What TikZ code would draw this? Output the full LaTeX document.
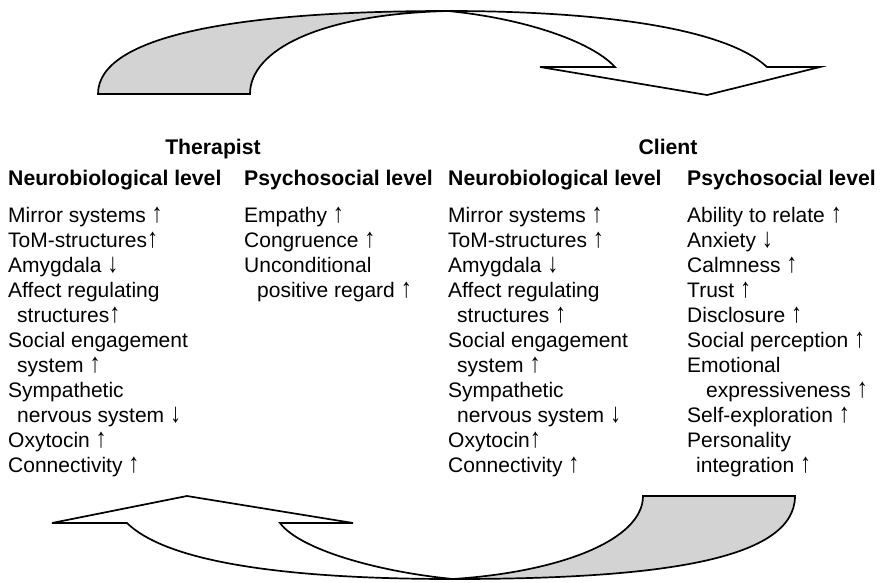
\documentclass[tikz,border=0pt]{standalone}
\usepackage{fontspec}
\setmainfont{Liberation Sans}
\definecolor{backgrey}{RGB}{211,211,211}
% tall, thin change arrows, boxed to the cap height of the text
\newcommand\upar{\raisebox{0pt}[0.74em][0.02em]{\scalebox{1.05}[1.3]{↑}}}
\newcommand\dnar{\raisebox{0pt}[0.74em][0.02em]{\scalebox{1.05}[1.3]{↓}}}
\begin{document}
\begin{tikzpicture}[x=1pt,y=-1pt,
  txt/.style={anchor=base west, inner sep=0pt, font=\fontsize{21}{25}\selectfont},
  headtxt/.style={txt, font=\fontsize{21.2}{25}\selectfont\bfseries},
  titletxt/.style={anchor=base, inner sep=0pt, font=\fontsize{21.2}{25}\selectfont\bfseries},
  ribbon/.style={draw=black, line width=1.7pt, line join=miter},
  backside/.style={ribbon, fill=backgrey},
  frontside/.style={ribbon, fill=white}]
\useasboundingbox (0,0) rectangle (880,582);

% upper ribbon arrow: therapist -> client
\coordinate (ta) at (448,11);
\draw[backside] (98,94) .. controls (98,35) and (240,11) .. (ta)
  .. controls (320,14) and (250,50) .. (250,94) -- cycle;
\draw[frontside] (ta) .. controls (600,11) and (725,28) .. (767,67)
  -- (820,67) -- (707,95) -- (540,67) -- (615,67)
  .. controls (590,40) and (520,18) .. (ta) -- cycle;

% lower ribbon arrow: client -> therapist
\coordinate (ba) at (453,579);
\draw[backside] (643,496) -- (795,496) .. controls (795,560) and (660,579) .. (ba)
  .. controls (560,572) and (643,540) .. (643,496) -- cycle;
\draw[frontside] (ba) .. controls (300,579) and (170,565) .. (127,523)
  -- (52,523) -- (187,496) -- (353,523) -- (280,523)
  .. controls (300,550) and (380,572) .. (ba) -- cycle;

% titles
\node[titletxt] (therapist) at (213,154) {Therapist};
\node[titletxt] (client) at (668,154) {Client};

% column heads
\node[headtxt] (thn) at (8,185.5) {Neurobiological level};
\node[headtxt] (thp) at (244,185.5) {Psychosocial level};
\node[headtxt] (chn) at (448,185.5) {Neurobiological level};
\node[headtxt] (chp) at (687,185.5) {Psychosocial level};

% therapist, neurobiological level
\foreach \d/\t [count=\i] in {0/Mirror systems \upar, 0/ToM-structures\upar, 0/Amygdala \dnar,
  0/Affect regulating, 9/structures\upar, 0/Social engagement, 9/system \upar,
  0/Sympathetic, 9/nervous system \dnar, 0/Oxytocin \upar, 0/Connectivity \upar}
  \node[txt] (tn\i) at (8+\d, 197+25*\i) {\t};

% therapist, psychosocial level
\foreach \d/\t [count=\i] in {0/Empathy \upar, 0/Congruence \upar, 0/Unconditional,
  13/positive regard \upar}
  \node[txt] (tp\i) at (244+\d, 197+25*\i) {\t};

% client, neurobiological level
\foreach \d/\t [count=\i] in {0/Mirror systems \upar, 0/ToM-structures \upar, 0/Amygdala \dnar,
  0/Affect regulating, 9/structures \upar, 0/Social engagement, 9/system \upar,
  0/Sympathetic, 9/nervous system \dnar, 0/Oxytocin\upar, 0/Connectivity \upar}
  \node[txt] (cn\i) at (448+\d, 197+25*\i) {\t};

% client, psychosocial level
\foreach \d/\t [count=\i] in {0/Ability to relate \upar, 0/Anxiety \dnar, 0/Calmness \upar,
  0/Trust \upar, 0/Disclosure \upar, 0/Social perception \upar, 0/Emotional,
  19/expressiveness \upar, 0/Self-exploration \upar, 0/Personality, 9/integration \upar}
  \node[txt] (cp\i) at (687+\d, 197+25*\i) {\t};
\end{tikzpicture}
\end{document}
